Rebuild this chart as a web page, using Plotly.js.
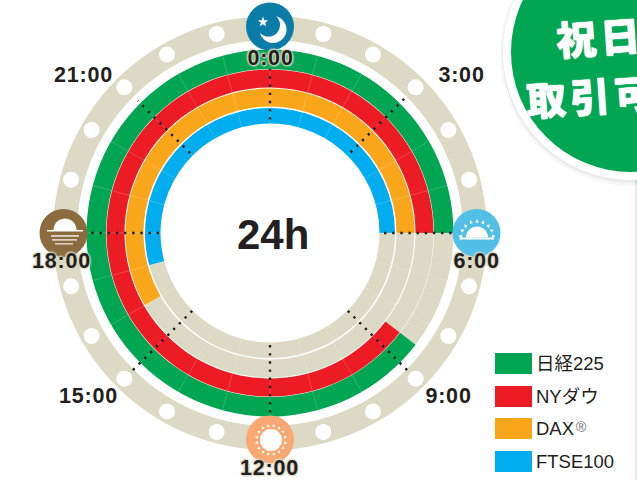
<!DOCTYPE html>
<html><head><meta charset="utf-8">
<script src="https://cdn.plot.ly/plotly-3.0.0.min.js"></script>
<style>html,body{margin:0;padding:0;background:#fff;overflow:hidden}</style>
</head><body><div id="chart" style="width:637px;height:480px"></div>
<script>
// ---- data (hours on a 24h clock; end hours past 24 wrap to the next day)
var marketNames  = ['日経225','NYダウ','DAX','FTSE100'];
var marketColors = ['#00a651','#ed1c24','#faa61a','#00aeef'];
var openHour     = [8.5, 8.5, 16, 17];
var closeHour    = [30, 30, 30, 30];
var ringInner    = [164, 145.5, 126.5, 109.5];
var ringOuter    = [183.5, 163.5, 144.5, 125];
var closedColor  = '#dcdac4';
var hourLabels   = ['0:00','3:00','6:00','9:00','12:00','15:00','18:00','21:00'];
var labelX       = [270,461,476.5,448,269.5,88.5,61,83];
var labelY       = [58,75,261,396,468,396,261,75];
var labelGlow    = [true,false,true,false,true,false,true,false];
var dotHours     = [0,3,6,9,12,15,18,21];
var dotFrom      = [113.5,114,114,110,112,110,111,113];
var dotTo        = [164,190,183,197,182,197,182,187];
var iconHours    = [0,6,12,18];
var iconColors   = ['#0b7ca6','#52bfe7','#f8a873','#8c6b3f'];
var holeHours    = [1,2,3,4,5,7,8,9,10,11,13,14,15,16,17,19,20,21,22,23];
var swatchTop    = [353,386,418,451];

var W=637,H=480,CX=270,CY=233,DEG=15;
function px(x){return x/W;} function py(y){return 1-y/H;}
var traces=[];
function bar(from,to,r0,r1,color){
  traces.push({type:'barpolar',theta:[(from+to)/2*DEG],width:[(to-from)*DEG],base:[r0],r:[r1-r0],
    marker:{color:color,line:{width:0}},hoverinfo:'skip',showlegend:false});
}
// outer beige clock band
bar(0,24,193,217,closedColor);
marketNames.forEach(function(n,i){
  bar(closeHour[i]-24,openHour[i],ringInner[i],ringOuter[i],closedColor);
  bar(openHour[i],closeHour[i],ringInner[i],ringOuter[i],marketColors[i]);
});
// faint hour dividers
for(var h=0;h<24;h++){
  ringInner.forEach(function(r0,i){
    traces.push({type:'scatterpolar',mode:'lines',theta:[h*DEG,h*DEG],r:[r0,ringOuter[i]],
      line:{color:'rgba(255,255,255,0.3)',width:0.6},hoverinfo:'skip',showlegend:false});
  });
}
// white holes in clock band
traces.push({type:'scatterpolar',mode:'markers',theta:holeHours.map(function(h){return h*DEG;}),
  r:holeHours.map(function(){return 206;}),marker:{color:'#fff',size:16,line:{width:0}},hoverinfo:'skip',showlegend:false});
// dotted 3-hour lines
dotHours.forEach(function(h,i){
  traces.push({type:'scatterpolar',mode:'lines',theta:[h*DEG,h*DEG],r:[dotFrom[i],dotTo[i]],
    line:{color:'#231f20',width:2.4,dash:'2.4px,5.75px'},hoverinfo:'skip',showlegend:false});
});
// icon discs
traces.push({type:'scatterpolar',mode:'markers',theta:iconHours.map(function(h){return h*DEG;}),
  r:iconHours.map(function(){return 206.5;}),marker:{color:iconColors,size:48,line:{width:0}},hoverinfo:'skip',showlegend:false});

var shapes=[];
function circle(cx,cy,r,fill,op){
  shapes.push({type:'circle',xref:'paper',yref:'paper',x0:px(cx-r),x1:px(cx+r),y0:py(cy+r),y1:py(cy-r),
    fillcolor:fill,opacity:op==null?1:op,line:{width:0},layer:'above'});
}
function poly(pts,fill){
  var d=pts.map(function(p,i){return (i?'L':'M')+px(p[0])+','+py(p[1]);}).join('')+'Z';
  shapes.push({type:'path',xref:'paper',yref:'paper',path:d,fillcolor:fill,line:{width:0},layer:'above'});
}
function rect(x0,y0,x1,y1,fill){
  shapes.push({type:'rect',xref:'paper',yref:'paper',x0:px(x0),x1:px(x1),y0:py(y1),y1:py(y0),fillcolor:fill,line:{width:0},layer:'above'});
}
function dome(cx,cy,r){
  var p=[];for(var a=180;a<=360;a+=10){p.push([cx+r*Math.cos(a*Math.PI/180),cy+r*Math.sin(a*Math.PI/180)]);}
  poly(p,'#fff');
}
function spike(cx,cy,r,a,len,w){
  var t=a*Math.PI/180,c=Math.cos(t),s=Math.sin(t);
  poly([[cx+(r+len)*c,cy+(r+len)*s],[cx+r*c-w*s,cy+r*s+w*c],[cx+r*c+w*s,cy+r*s-w*c]],'#fff');
}
// moon icon
circle(273,29.5,13.5,'#fff');
circle(268.5,25,11.5,iconColors[0]);
var star=[];for(var k=0;k<10;k++){var rr=k%2?2.2:5.4,t=(-90+36*k)*Math.PI/180;star.push([263+rr*Math.cos(t),22+rr*Math.sin(t)]);}
poly(star,'#fff');
// sunrise icon
dome(477,237.5,11);
rect(459.5,237.5,494,239.5,'#fff');
[-175,-155,-135,-112,-90,-68,-45,-25,-5].forEach(function(a){spike(477,237.5,15,a,3.5,1.8);});
// noon icon
circle(271,440,11,'#fff');
for(var a=0;a<360;a+=22.5){spike(271,440,13.5,a+11,3,1.6);}
// sunset icon
dome(65,230,11.5);
rect(47,230,83,231.6,'#fff');
rect(51,235.3,79,236.6,'#fff');
rect(52,239.3,77,240.5,'#fff');
rect(55,243.3,73,244.4,'#fff');
// page-edge strip and badge
rect(635,180,637,480,'#dcefe5');
circle(632,54,132,'#000',0.03);
circle(632,53,130,'#000',0.05);
circle(631,52,128,'#fff');
circle(631,52,120,'#00a651');
// legend swatches
swatchTop.forEach(function(y,i){rect(495,y,532,y+21,marketColors[i]);});

var LATIN='"Liberation Sans", Arial, sans-serif';
var annotations=[], spacing=[];
function label(text,x,y,font,anchor,angle,ls){
  annotations.push({text:text,xref:'paper',yref:'paper',x:px(x),y:py(y),xanchor:anchor||'center',yanchor:'middle',
    showarrow:false,font:font,textangle:angle||0,borderpad:0});
  spacing.push(ls||0);
}
var GLOW='0 0 2px #dcdac4, 0 0 2px #dcdac4, 0 0 3px #dcdac4, 1px 1px 2px #dcdac4, -1px -1px 2px #dcdac4';
hourLabels.forEach(function(t,i){
  var f={family:LATIN,size:21.5,color:'#231f20',weight:700};
  if(labelGlow[i]){f.shadow=GLOW;}
  label(t,labelX[i],labelY[i],f,'center',0,0.8);
});
label('24h',272.5,234,{family:LATIN,size:42,color:'#231f20',weight:700});
marketNames.forEach(function(n,i){
  label(n,534.5,swatchTop[i]+10.5,{family:LATIN+',"Noto Sans CJK JP"',size:18.5,color:'#231f20'},'left');
});
label('®',574.5,426.5,{family:LATIN,size:14,color:'#6d6e71'},'left');
var BOLDW='0 0 1px #fff, 0 0 1px #fff';
label('祝日',557,36,{family:'"Noto Sans CJK JP"',size:40,color:'#fff',weight:900,shadow:BOLDW},'left',-4,4);
label('取引可',529,95,{family:'"Noto Sans CJK JP"',size:40,color:'#fff',weight:900,shadow:BOLDW},'left',-4,4);

var layout={width:W,height:H,margin:{l:0,r:0,t:0,b:0},paper_bgcolor:'#fff',showlegend:false,
  polar:{domain:{x:[px(CX-CY),px(CX+CY)],y:[py(2*CY),1]},bgcolor:'rgba(0,0,0,0)',
    angularaxis:{direction:'clockwise',rotation:90,visible:false,thetaunit:'degrees'},
    radialaxis:{visible:false,range:[0,CY]},barmode:'overlay'},
  shapes:shapes,annotations:annotations};
Plotly.newPlot('chart',traces,layout,{displayModeBar:false,staticPlot:true}).then(function(gd){
  var nodes=gd.querySelectorAll('.annotation-text');
  nodes.forEach(function(n,i){ if(spacing[i]){n.style.letterSpacing=spacing[i]+'px';} });
});
</script></body></html>
